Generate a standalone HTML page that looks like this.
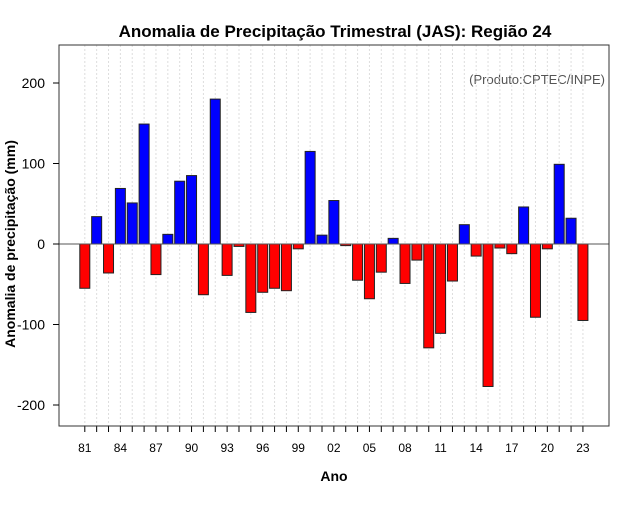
<!DOCTYPE html>
<html><head><meta charset="utf-8"><style>
body{margin:0;background:#fff;}
svg text{font-family:"Liberation Sans",sans-serif;}
</style></head><body>
<svg id="chart" width="640" height="500" xmlns="http://www.w3.org/2000/svg">
<rect width="640" height="500" fill="#fff"/>
<text x="335" y="37" text-anchor="middle" font-size="17" font-weight="bold">Anomalia de Precipitação Trimestral (JAS): Região 24</text>
<text x="605" y="84" text-anchor="end" font-size="13" fill="#555">(Produto:CPTEC/INPE)</text>
<text x="334" y="481" text-anchor="middle" font-size="14" font-weight="bold">Ano</text>
<text transform="translate(15,244) rotate(-90)" text-anchor="middle" font-size="14" font-weight="bold">Anomalia de precipitação (mm)</text>
<g id="grid"></g><g id="bars"></g><g id="axes"></g>
</svg>
<script>
const years = [];
for (let y = 1981; y <= 2023; y++) years.push(y);
const values = [-55,34,-36,69,51,149,-38,12,78,85,-63,180,-39,-3,-85,-60,-55,-58,-6,115,11,54,-2,-45,-68,-35,7,-49,-20,-129,-111,-46,24,-15,-177,-5,-12,46,-91,-6,99,32,-95];
const yTicks = [-200,-100,0,100,200];
const NS='http://www.w3.org/2000/svg';
const L=59,R=609,T=45,B=426;
const xs=i=>84.8+i*11.86;
const ys=v=>244-v*0.805;
function mk(tag,attrs,parent){const e=document.createElementNS(NS,tag);for(const k in attrs)e.setAttribute(k,attrs[k]);parent.appendChild(e);return e;}
const grid=document.getElementById('grid'),bars=document.getElementById('bars'),axes=document.getElementById('axes');
years.forEach((yr,i)=>{
  const g=mk('line',{x1:xs(i),x2:xs(i),y1:T,y2:B,stroke:'#ddd','stroke-dasharray':'2,2'},grid);
  
  
  const v=values[i];
  const b=mk('rect',{x:xs(i)-5,width:10,y:Math.min(ys(v),ys(0)),height:Math.abs(ys(v)-ys(0)),fill:v>=0?'#0000ff':'#ff0000',stroke:'#222','stroke-width':1},bars);
  
  
  const t=mk('line',{x1:xs(i),x2:xs(i),y1:B,y2:B+6,stroke:'#000'},axes);
  
  
  if((yr-1981)%3===0){
    const lb=mk('text',{x:xs(i),y:452,'text-anchor':'middle','font-size':12},axes);
    lb.textContent=String(yr%100).padStart(2,'0');
    
    
  }
});
const z=mk('line',{x1:L,x2:R,y1:ys(0),y2:ys(0),stroke:'#555','stroke-width':1},axes);


const box=mk('rect',{x:L,y:T,width:R-L,height:B-T,fill:'none',stroke:'#333'},axes);


yTicks.forEach(v=>{
  const t=mk('line',{x1:L-6,x2:L,y1:ys(v),y2:ys(v),stroke:'#000'},axes);
  
  
  const lb=mk('text',{x:45,y:ys(v)+5,'text-anchor':'end','font-size':14},axes);
  lb.textContent=v;
  
  
});
</script>
</body></html>
